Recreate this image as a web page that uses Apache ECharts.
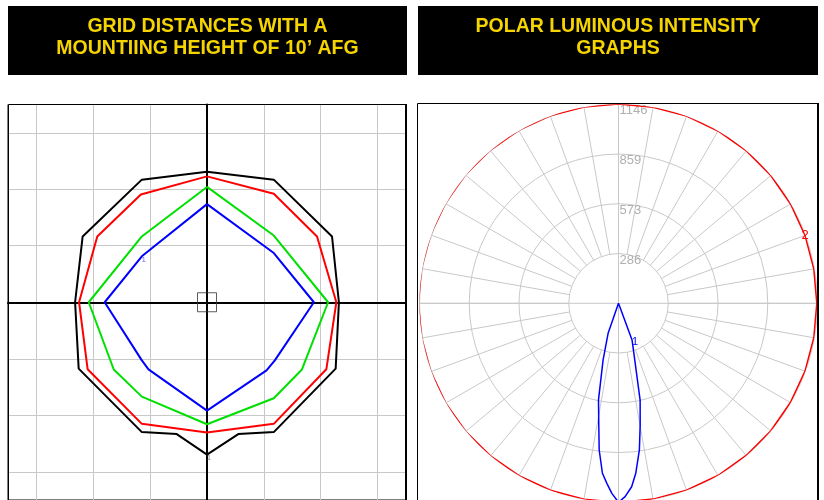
<!DOCTYPE html>
<html>
<head>
<meta charset="utf-8">
<script src="https://cdn.jsdelivr.net/npm/echarts@6.0.0/dist/echarts.min.js"></script>
<style>
  html, body { margin: 0; padding: 0; background: #fff; }
  #main { width: 824px; height: 500px; }
</style>
</head>
<body>
<div id="main"></div>
<script>
// panel titles
const leftTitle = ['GRID DISTANCES WITH A', 'MOUNTIING HEIGHT OF 10\u2019 AFG'];
const rightTitle = ['POLAR LUMINOUS INTENSITY', 'GRAPHS'];

// grid distance contours (grid units, origin at luminaire)
const blackX = [0, 1.175, 2.199, 2.32, 2.263, 1.175, 0.55, 0, -0.532, -1.146, -2.257, -2.32, -2.187, -1.146, 0];
const blackY = [2.31, 2.17, 1.164, 0, -1.175, -2.298, -2.333, -2.696, -2.333, -2.298, -1.175, 0, 1.164, 2.17, 2.31];
const redX = [0, 1.175, 1.935, 2.275, 2.099, 1.175, 0, -1.146, -2.099, -2.25, -1.93, -1.163, 0];
const redY = [2.228, 1.92, 1.163, 0, -1.187, -2.152, -2.304, -2.152, -1.187, 0, 1.163, 1.907, 2.228];
const greenX = [0, 1.175, 2.13, 1.67, 1.175, 0, -1.146, -1.64, -2.08, -1.146, 0];
const greenY = [2.041, 1.181, 0, -1.19, -1.70, -2.16, -1.67, -1.19, 0, 1.164, 2.041];
const blueX = [0, 1.175, 1.88, 1.193, 1.047, 0, -1.029, -1.146, -1.80, -1.146, 0];
const blueY = [1.737, 0.871, 0, -1.029, -1.205, -1.918, -1.187, -1.029, 0, 0.813, 1.737];

// polar luminous intensity (cd), angle 0 = nadir, negative = left
const ringStep = 286.5;
const ringLabels = ['286', '573', '859', '1146'];
const redAngles = [-180, -170, -160, -150, -140, -130, -120, -110, -100, -90, -80, -70, -60, -50, -40, -30, -20, -10,
  0, 10, 20, 30, 40, 50, 60, 70, 80, 90, 100, 110, 120, 130, 140, 150, 160, 170, 180];
const redValues = [1148, 1148, 1149, 1150, 1150, 1151, 1151, 1152, 1152, 1152, 1151, 1150, 1149, 1148, 1147, 1146, 1146, 1146,
  1146, 1145, 1145, 1145, 1144, 1144, 1143, 1143, 1142, 1142, 1142, 1143, 1144, 1145, 1146, 1146, 1147, 1147, 1148];
const blueAngles = [-30, -19.1, -15.2, -11.7, -9.2, -7.5, -5.4, -3.7, -2.0, 0, 1.95, 4.1, 5.8, 8.1, 10.1, 12.6, 16.0, 20.3, 30];
const blueValues = [0, 183, 338, 568, 710, 852, 983, 1039, 1095, 1146, 1114, 1059, 984, 853, 712, 571, 340, 225, 0];

const pairs = (a, b) => a.map((v, i) => [v, b[i]]);
const gray = '#c8c8c8';
const cx = 618.5, cy = 303.3;

function contour(name, xs, ys, color, labelAt, labelColor) {
  return {
    name: name,
    type: 'line',
    xAxisIndex: 0,
    yAxisIndex: 0,
    data: pairs(xs, ys).map((p, i) => i === labelAt ? {
      value: p,
      label: { show: true, formatter: '1', position: 'bottom', distance: 0, offset: [2, -1], fontSize: 8, color: labelColor, fontFamily: 'Liberation Sans' }
    } : p),
    showSymbol: true,
    symbolSize: 0,
    lineStyle: { color: color, width: 2 },
    itemStyle: { color: color },
    animation: false,
    z: 3
  };
}

const chart = echarts.init(document.getElementById('main'), null, { renderer: 'canvas' });

chart.setOption({
  animation: false,
  graphic: [
    { type: 'rect', shape: { x: 8, y: 6, width: 399, height: 69 }, style: { fill: '#000' } },
    { type: 'rect', shape: { x: 418, y: 6, width: 400, height: 69 }, style: { fill: '#000' } },
    { type: 'text', x: 207.5, y: 27, style: { text: leftTitle[0], fill: '#f5d400', font: 'bold 19.5px "Liberation Sans"', textAlign: 'center', textVerticalAlign: 'middle' } },
    { type: 'text', x: 207.5, y: 49, style: { text: leftTitle[1], fill: '#f5d400', font: 'bold 19.5px "Liberation Sans"', textAlign: 'center', textVerticalAlign: 'middle' } },
    { type: 'text', x: 618, y: 27, style: { text: rightTitle[0], fill: '#f5d400', font: 'bold 19.5px "Liberation Sans"', textAlign: 'center', textVerticalAlign: 'middle' } },
    { type: 'text', x: 618, y: 49, style: { text: rightTitle[1], fill: '#f5d400', font: 'bold 19.5px "Liberation Sans"', textAlign: 'center', textVerticalAlign: 'middle' } },
    { type: 'rect', z: 10, shape: { x: 8.5, y: 104.5, width: 397, height: 420 }, style: { fill: 'none', stroke: '#000', lineWidth: 1 } },
    { type: 'line', z: 10, shape: { x1: 406, y1: 104, x2: 406, y2: 520 }, style: { stroke: '#000', lineWidth: 2 } },
    { type: 'rect', z: 10, shape: { x: 417.5, y: 103.5, width: 400, height: 420 }, style: { fill: 'none', stroke: '#000', lineWidth: 1 } },
    { type: 'line', z: 10, shape: { x1: 818, y1: 103, x2: 818, y2: 520 }, style: { stroke: '#000', lineWidth: 2 } }
  ],
  grid: {
    left: 8, top: 104.5, width: 398, height: 398,
    show: true, borderColor: '#000', borderWidth: 1, backgroundColor: '#fff'
  },
  xAxis: {
    type: 'value', min: -3.5, max: 3.5, splitNumber: 7,
    axisLine: { show: true, onZero: true, lineStyle: { color: '#000', width: 2 } },
    axisTick: { show: false }, axisLabel: { show: false },
    splitLine: { show: true, lineStyle: { color: gray, width: 1 } }
  },
  yAxis: {
    type: 'value', min: -3.5, max: 3.5, splitNumber: 7,
    axisLine: { show: true, onZero: true, lineStyle: { color: '#000', width: 2 } },
    axisTick: { show: false }, axisLabel: { show: false },
    splitLine: { show: true, lineStyle: { color: gray, width: 1 } }
  },
  polar: [
    { center: [cx, cy], radius: [0, 199] },
    { center: [cx, cy], radius: [49.75, 199] }
  ],
  angleAxis: [
    {
      polarIndex: 0, type: 'value', min: -180, max: 180, interval: 90, startAngle: 90, clockwise: false,
      axisLine: { show: false }, axisTick: { show: false }, axisLabel: { show: false },
      splitLine: { show: true, lineStyle: { color: gray, width: 1 } }
    },
    {
      polarIndex: 1, type: 'value', min: -180, max: 180, interval: 10, startAngle: 90, clockwise: false,
      axisLine: { show: false }, axisTick: { show: false }, axisLabel: { show: false },
      splitLine: { show: true, lineStyle: { color: gray, width: 1 } }
    }
  ],
  radiusAxis: [
    {
      polarIndex: 0, type: 'value', min: 0, max: ringStep * 4, interval: ringStep,
      axisLine: { show: false }, axisTick: { show: false },
      axisLabel: {
        show: true, margin: -1, align: 'left', verticalAlign: 'top',
        color: '#b0b0b0', fontSize: 13, fontFamily: 'Liberation Sans',
        formatter: v => ringLabels[Math.round(v / ringStep) - 1] || ''
      },
      splitLine: { show: true, lineStyle: { color: gray, width: 1 } }
    },
    {
      polarIndex: 1, type: 'value', min: 0, max: ringStep * 4,
      axisLine: { show: false }, axisTick: { show: false }, axisLabel: { show: false },
      splitLine: { show: false }
    }
  ],
  series: [
    contour('black', blackX, blackY, '#000', 7, '#888'),
    contour('red', redX, redY, '#ff0000', -1, '#f00'),
    contour('green', greenX, greenY, '#00e000', -1, '#0c0'),
    contour('blue', blueX, blueY, '#0000ff', 9, '#7070ff'),
    {
      name: 'luminaire',
      type: 'scatter',
      data: [[0, 0]],
      symbol: 'rect',
      symbolSize: 19,
      itemStyle: { color: 'rgba(0,0,0,0)', borderColor: '#333', borderWidth: 1 },
      z: 4
    },
    {
      name: 'C2',
      type: 'line',
      coordinateSystem: 'polar',
      polarIndex: 0,
      data: pairs(redValues, redAngles).map(p => p[1] === 110 ? {
        value: p,
        label: { show: true, formatter: '2', position: 'inside', color: '#f00', fontSize: 13, fontFamily: 'Liberation Sans' }
      } : p),
      showSymbol: true,
      symbolSize: 0,
      lineStyle: { color: '#ff0000', width: 1.5 },
      itemStyle: { color: '#ff0000' },
      z: 3
    },
    {
      name: 'C1',
      type: 'line',
      coordinateSystem: 'polar',
      polarIndex: 0,
      data: pairs(blueValues, blueAngles).map(p => p[1] === 20.3 ? {
        value: p,
        label: { show: true, formatter: '1', position: 'inside', offset: [3, 2], color: '#0000ff', fontSize: 11, fontFamily: 'Liberation Sans' }
      } : p),
      showSymbol: true,
      symbolSize: 0,
      lineStyle: { color: '#0000ff', width: 1.5 },
      itemStyle: { color: '#0000ff' },
      z: 3
    }
  ]
});
</script>
</body>
</html>
